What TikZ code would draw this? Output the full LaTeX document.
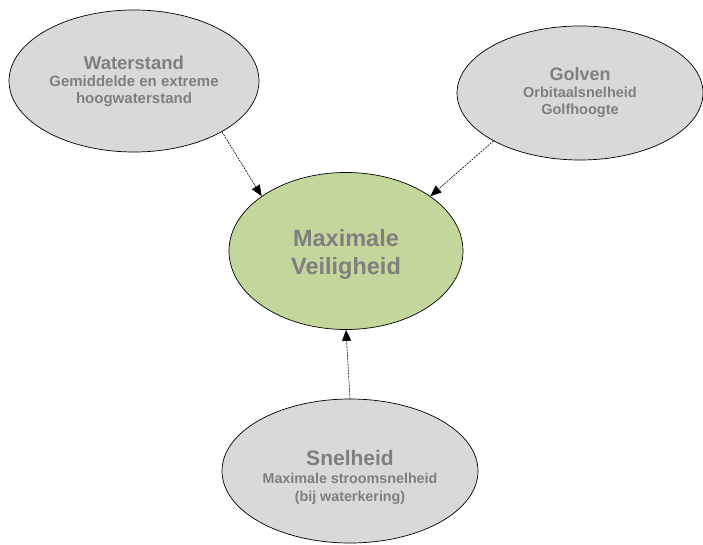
\documentclass[tikz,border=0pt]{standalone}
\usepackage{fontspec}
\setmainfont{Liberation Sans}
\usetikzlibrary{arrows.meta,shapes.geometric}
\definecolor{bubblegray}{HTML}{D9D9D9}
\definecolor{goalgreen}{HTML}{C3D69B}
\definecolor{labelgray}{HTML}{7F7F7F}
\begin{document}
\begin{tikzpicture}[x=1pt,y=-1pt,
  bubble/.style={ellipse,draw=black,line width=0.7pt,fill=bubblegray,inner sep=0pt,
    align=center,text=labelgray,font=\fontsize{14.5}{17}\selectfont\bfseries},
  goal/.style={bubble,fill=goalgreen},
  caption/.style={text=labelgray,align=center,inner sep=0pt},
  link/.style={draw=black,line width=0.6pt,dash pattern=on 2pt off 1pt,
    -{Triangle[length=11pt,width=9pt]}}]
\useasboundingbox (0,0) rectangle (703,545);
\clip (0,0) rectangle (703,545);

% source factors
\node[bubble,minimum width=250pt,minimum height=142pt,
  font=\fontsize{15}{17}\selectfont\bfseries] (w) at (134,81)
  {{\fontsize{18.5}{18}\selectfont Waterstand}\\Gemiddelde en extreme\\hoogwaterstand};
\node[bubble,minimum width=246pt,minimum height=134pt] (g) at (580,93)
  {{\fontsize{18}{18}\selectfont Golven}\\Orbitaalsnelheid\\Golfhoogte};
\node[bubble,minimum width=256pt,minimum height=144pt] (s) at (350,471) {};
\node[caption,font=\fontsize{14.3}{18}\selectfont\bfseries] (st) at (350,477)
  {{\fontsize{21}{21}\selectfont Snelheid}\\Maximale stroomsnelheid\\(bij waterkering)};

% goal
\node[goal,minimum width=234pt,minimum height=157pt] (m) at (346,251) {};
\node[caption,font=\fontsize{23.5}{28}\selectfont\bfseries] (mt) at (346,254)
  {Maximale\\Veiligheid};

% influences
\draw[link] (w.-30) -- (m.147);
\draw[link] (g.-151) -- (m.33);
\draw[link] (s.north) -- (m.south);
\end{tikzpicture}
\end{document}
